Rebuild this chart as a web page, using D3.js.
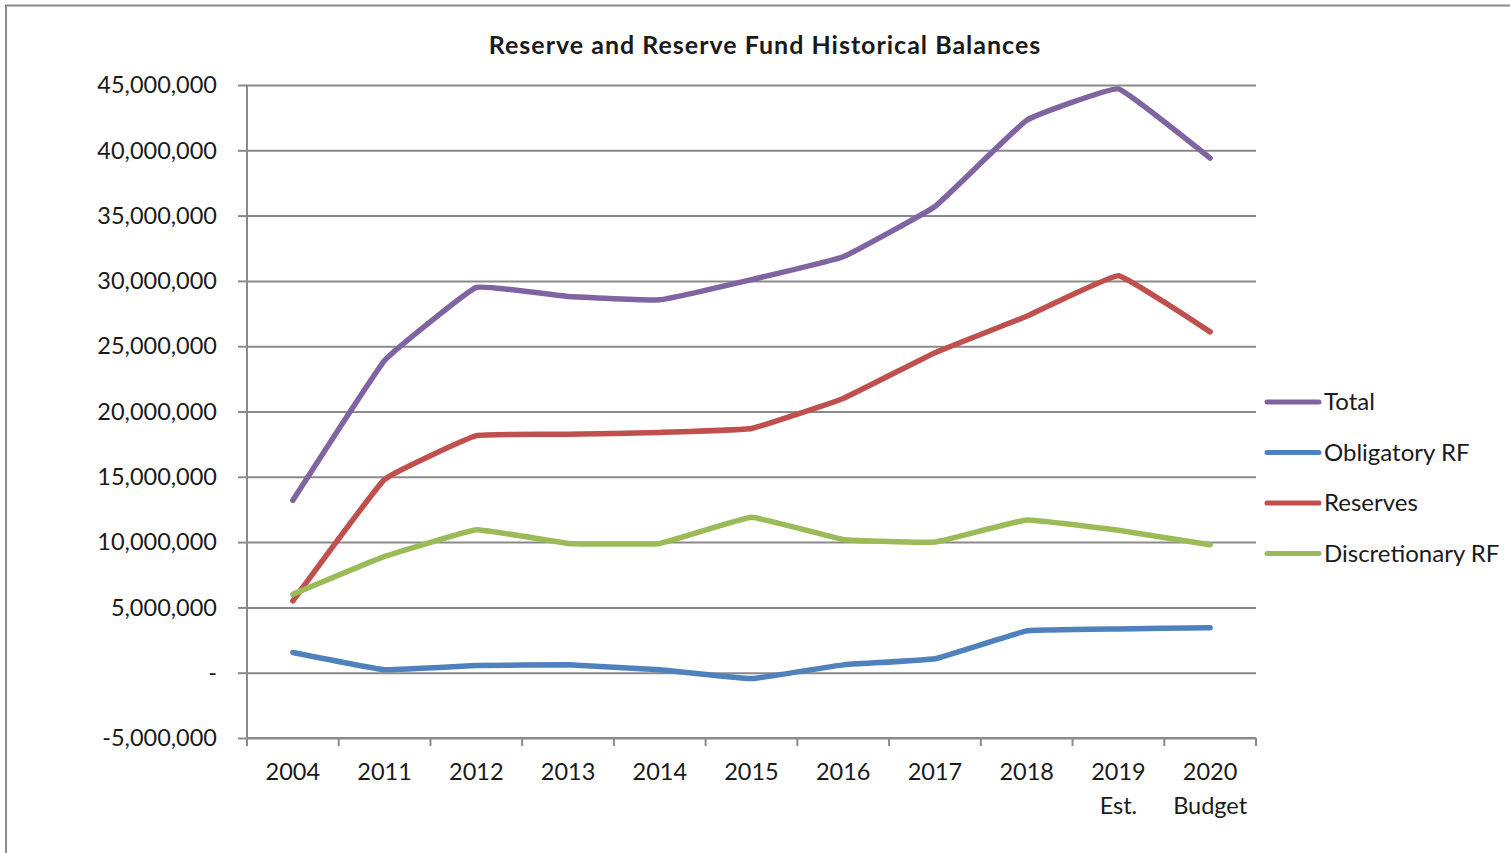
<!DOCTYPE html>
<html>
<head>
<meta charset="utf-8">
<script src="https://cdn.jsdelivr.net/npm/d3@7"></script>
<style>
  body { margin: 0; background: #fff; }
  svg text { font-family: Lato, "Open Sans", sans-serif; fill: #1a1a1a; }
</style>
</head>
<body>
<div id="chart"></div>
<script>
// categories (second line of label after "|")
var categories = ["2004", "2011", "2012", "2013", "2014", "2015", "2016", "2017", "2018", "2019|Est.", "2020|Budget"];
var totalValues = [13200000, 23900000, 29500000, 28800000, 28550000, 30100000, 31850000, 35700000, 42300000, 44700000, 39400000];
var obligatoryValues = [1550000, 230000, 550000, 600000, 230000, -450000, 600000, 1070000, 3200000, 3350000, 3450000];
var reservesValues = [5500000, 14800000, 18150000, 18250000, 18400000, 18700000, 21000000, 24500000, 27300000, 30400000, 26100000];
var discretionaryValues = [6000000, 8900000, 10950000, 9900000, 9900000, 11900000, 10200000, 10000000, 11700000, 10900000, 9800000];
var yTicks = [-5000000, 0, 5000000, 10000000, 15000000, 20000000, 25000000, 30000000, 35000000, 40000000, 45000000];

var series = [
  { key: "Total", color: "#8064a2", values: totalValues },
  { key: "Obligatory RF", color: "#4f81bd", values: obligatoryValues },
  { key: "Reserves", color: "#c0504d", values: reservesValues },
  { key: "Discretionary RF", color: "#9bbb59", values: discretionaryValues }
];

var containerwidth = 1510, containerheight = 853;
var margin = { top: 85, right: 254, bottom: 115, left: 247 };
var width = containerwidth - margin.left - margin.right;
var height = containerheight - margin.top - margin.bottom;

var svg = d3.select("#chart").append("svg")
  .attr("width", containerwidth)
  .attr("height", containerheight);

// outer chart frame
svg.append("path")
  .attr("d", "M6,853 L6,5.5 L1510,5.5")
  .attr("fill", "none")
  .attr("stroke", "#8a8a8a")
  .attr("stroke-width", 2);

svg.append("text")
  .attr("x", 765)
  .attr("y", 54)
  .attr("text-anchor", "middle")
  .style("font-size", "25px")
  .style("letter-spacing", "1px")
  .style("font-weight", "bold")
  .text("Reserve and Reserve Fund Historical Balances");

var g = svg.append("g")
  .attr("transform", "translate(" + margin.left + "," + margin.top + ")");

var xScale = d3.scaleBand().domain(categories).range([0, width]);
var yScale = d3.scaleLinear().domain([-5000000, 45000000]).range([height, 0]);

// y axis with gridlines
var yAxis = d3.axisLeft(yScale)
  .tickValues(yTicks)
  .tickSize(-width)
  .tickFormat(function(d) { return d === 0 ? "-" : d3.format(",")(d).replace("\u2212", "-"); });
var yAxisG = g.append("g").attr("class", "yAxisG").call(yAxis);
yAxisG.select(".domain").remove();
yAxisG.selectAll(".tick line").attr("stroke", "#8a8a8a").attr("stroke-width", 2);
yAxisG.selectAll(".tick").append("line")
  .attr("x1", -9).attr("x2", 0)
  .attr("stroke", "#8a8a8a").attr("stroke-width", 2);
yAxisG.selectAll(".tick text")
  .style("font-size", "23.5px")
  .attr("dy", "0.33em")
  .attr("x", -30);

g.append("line")
  .attr("x1", 0).attr("x2", 0).attr("y1", 0).attr("y2", height)
  .attr("stroke", "#8a8a8a").attr("stroke-width", 2);

// x axis at bottom, ticks between categories
var xAxisG = g.append("g").attr("class", "xAxisG")
  .attr("transform", "translate(0," + height + ")");
xAxisG.append("line")
  .attr("x1", 0).attr("x2", width)
  .attr("stroke", "#8a8a8a").attr("stroke-width", 2);
xAxisG.selectAll("line.xtick")
  .data(categories.concat(["end"]))
  .enter().append("line")
  .attr("class", "xtick")
  .attr("x1", function(d, i) { return i * xScale.step(); })
  .attr("x2", function(d, i) { return i * xScale.step(); })
  .attr("y1", 0).attr("y2", 8)
  .attr("stroke", "#8a8a8a").attr("stroke-width", 2);
var xLabels = xAxisG.selectAll("text.xlabel")
  .data(categories)
  .enter().append("text")
  .attr("class", "xlabel")
  .attr("text-anchor", "middle")
  .attr("x", function(d) { return xScale(d) + xScale.bandwidth() / 2; })
  .style("font-size", "23.5px");
xLabels.each(function(d) {
  var parts = d.split("|");
  var t = d3.select(this);
  parts.forEach(function(p, i) {
    t.append("tspan")
      .attr("x", xScale(d) + xScale.bandwidth() / 2)
      .attr("y", 42 + i * 34)
      .text(p);
  });
});

// lines
var line = d3.line()
  .x(function(d, i) { return xScale(categories[i]) + xScale.bandwidth() / 2; })
  .y(function(d) { return yScale(d); })
  .curve(d3.curveCardinal.tension(0.75));

var order = [1, 2, 3, 0];
order.forEach(function(i) {
  var s = series[i];
  g.append("path")
    .datum(s.values)
    .attr("fill", "none")
    .attr("stroke", s.color)
    .attr("stroke-width", 5.5)
    .attr("stroke-linejoin", "round")
    .attr("stroke-linecap", "round")
    .attr("d", line);
});

// legend
var legend = svg.append("g").attr("transform", "translate(1267,402)");
var legendItem = legend.selectAll("g")
  .data(series)
  .enter().append("g")
  .attr("transform", function(d, i) { return "translate(0," + (i * 50.5) + ")"; });
legendItem.append("line")
  .attr("x1", 0).attr("x2", 52)
  .attr("stroke", function(d) { return d.color; })
  .attr("stroke-width", 5)
  .attr("stroke-linecap", "round");
legendItem.append("text")
  .attr("x", 57)
  .attr("dy", "0.35em")
  .style("font-size", "24px")
  .text(function(d) { return d.key; });
</script>
</body>
</html>
